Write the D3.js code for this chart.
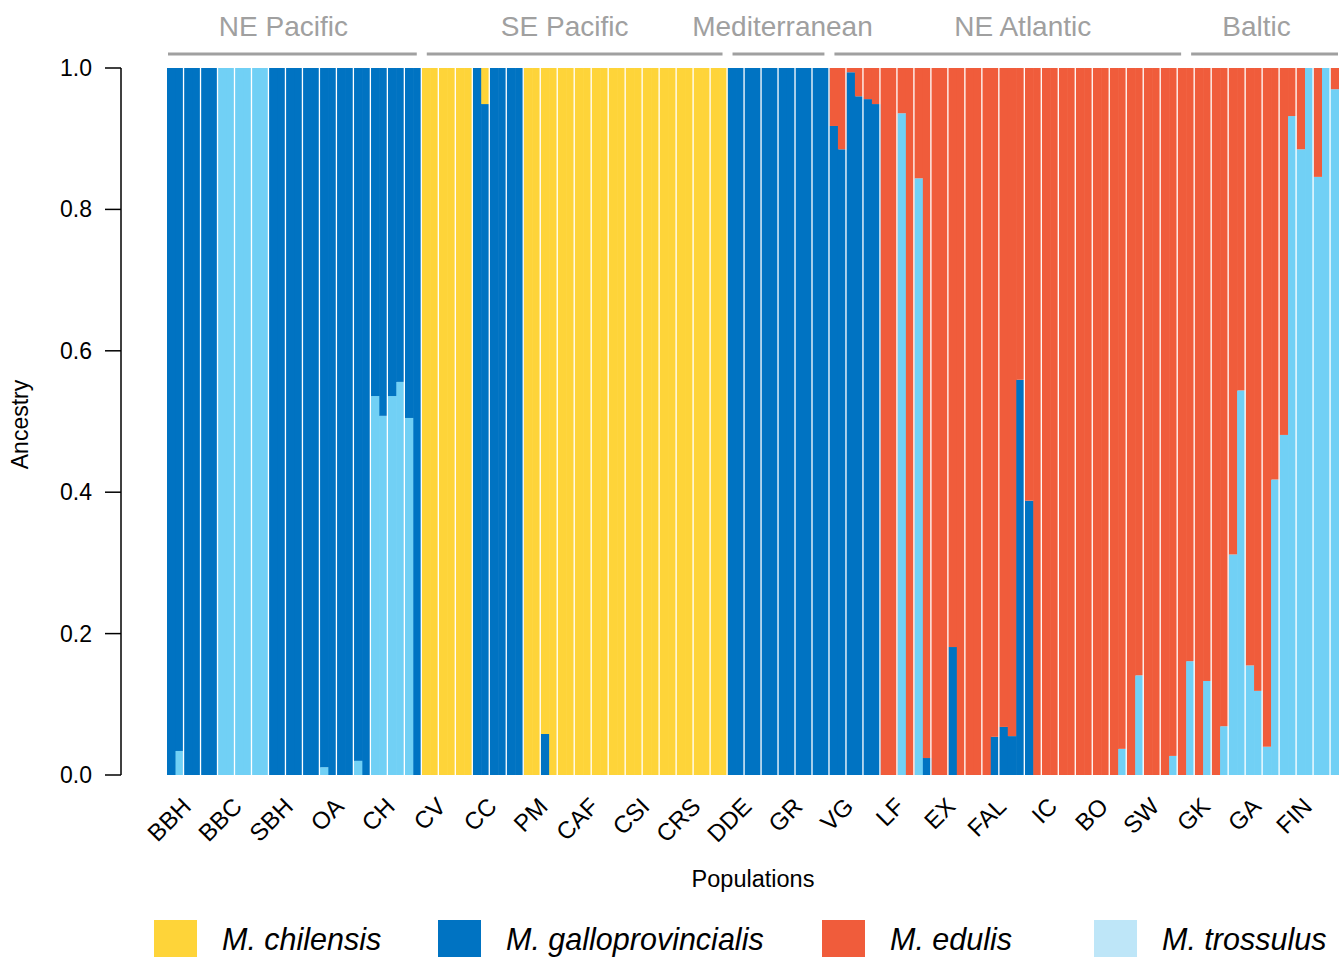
<!DOCTYPE html>
<html><head><meta charset="utf-8">
<script src="https://cdn.jsdelivr.net/npm/d3@7"></script>
<style>
body{margin:0;background:#fff}
svg{display:block}
text{font-family:"Liberation Sans",Arial,Helvetica,sans-serif}
</style>
</head><body>
<svg id="chart" width="1343" height="957"></svg>
<script>
// ---------------- DATA ----------------
const populations = ["BBH","BBC","SBH","OA","CH","CV","CC","PM","CAF","CSI","CRS","DDE","GR","VG","LF","EX","FAL","IC","BO","SW","GK","GA","FIN"];
const regionNames = ["NE Pacific","SE Pacific","Mediterranean","NE Atlantic","Baltic"];
const regionPopCounts = [5,6,2,7,3];
const individualsPerPop = 6;
const speciesKeys = ["trossulus","galloprovincialis","edulis","chilensis"]; // stacking order, bottom to top
const legendKeys = ["chilensis","galloprovincialis","edulis","trossulus"];
const legendLabels = ["M. chilensis","M. galloprovincialis","M. edulis","M. trossulus"];
const yTicks = [0,0.2,0.4,0.6,0.8,1.0];

// ancestry proportions per individual (6 per population, in population order)
const trossulus = [
  0,.034,0,0,0,0,        // BBH
  1,1,1,1,1,1,           // BBC
  0,0,0,0,0,0,           // SBH
  .011,0,0,0,.020,0,     // OA
  .536,.508,.536,.556,.505,0, // CH
  0,0,0,0,0,0,           // CV
  0,0,0,0,0,0,           // CC
  0,0,0,0,0,0,           // PM
  0,0,0,0,0,0,           // CAF
  0,0,0,0,0,0,           // CSI
  0,0,0,0,0,0,           // CRS
  0,0,0,0,0,0,           // DDE
  0,0,0,0,0,0,           // GR
  0,0,0,0,0,0,           // VG
  0,0,.936,0,.844,0,     // LF
  0,0,0,0,0,0,           // EX
  0,0,0,0,0,0,           // FAL
  0,0,0,0,0,0,           // IC
  0,0,0,0,.037,0,        // BO
  .141,0,0,0,.027,0,     // SW
  .161,0,.133,0,.069,.312, // GK
  .544,.155,.119,.040,.418,.481, // GA
  .932,.885,1,.846,1,.970  // FIN
];
const galloprovincialis = [
  1,.966,1,1,1,1,        // BBH
  0,0,0,0,0,0,           // BBC
  1,1,1,1,1,1,           // SBH
  .989,1,1,1,.980,1,     // OA
  .464,.492,.464,.444,.495,1, // CH
  0,0,0,0,0,0,           // CV
  1,.949,1,1,1,1,        // CC
  0,0,.058,0,0,0,        // PM
  0,0,0,0,0,0,           // CAF
  0,0,0,0,0,0,           // CSI
  0,0,0,0,0,0,           // CRS
  1,1,1,1,1,1,           // DDE
  1,1,1,1,1,1,           // GR
  .918,.885,.994,.960,.956,.949, // VG
  0,0,0,0,0,.024,        // LF
  0,0,.181,0,0,0,        // EX
  0,.054,.068,.055,.559,.388, // FAL
  0,0,0,0,0,0,           // IC
  0,0,0,0,0,0,           // BO
  0,0,0,0,0,0,           // SW
  0,0,0,0,0,0,           // GK
  0,0,0,0,0,0,           // GA
  0,0,0,0,0,0            // FIN
];
const edulis = [
  0,0,0,0,0,0,           // BBH
  0,0,0,0,0,0,           // BBC
  0,0,0,0,0,0,           // SBH
  0,0,0,0,0,0,           // OA
  0,0,0,0,0,0,           // CH
  0,0,0,0,0,0,           // CV
  0,0,0,0,0,0,           // CC
  0,0,0,0,0,0,           // PM
  0,0,0,0,0,0,           // CAF
  0,0,0,0,0,0,           // CSI
  0,0,0,0,0,0,           // CRS
  0,0,0,0,0,0,           // DDE
  0,0,0,0,0,0,           // GR
  .082,.115,.006,.040,.044,.051, // VG
  1,1,.064,1,.156,.976,  // LF
  1,1,.819,1,1,1,        // EX
  1,.946,.932,.945,.441,.612, // FAL
  1,1,1,1,1,1,           // IC
  1,1,1,1,.963,1,        // BO
  .859,1,1,1,.973,1,     // SW
  .839,1,.867,1,.931,.688, // GK
  .456,.845,.881,.960,.582,.519, // GA
  .068,.115,0,.154,0,.030  // FIN
];
const chilensis = [
  0,0,0,0,0,0,           // BBH
  0,0,0,0,0,0,           // BBC
  0,0,0,0,0,0,           // SBH
  0,0,0,0,0,0,           // OA
  0,0,0,0,0,0,           // CH
  1,1,1,1,1,1,           // CV
  0,.051,0,0,0,0,        // CC
  1,1,.942,1,1,1,        // PM
  1,1,1,1,1,1,           // CAF
  1,1,1,1,1,1,           // CSI
  1,1,1,1,1,1,           // CRS
  0,0,0,0,0,0,           // DDE
  0,0,0,0,0,0,           // GR
  0,0,0,0,0,0,           // VG
  0,0,0,0,0,0,           // LF
  0,0,0,0,0,0,           // EX
  0,0,0,0,0,0,           // FAL
  0,0,0,0,0,0,           // IC
  0,0,0,0,0,0,           // BO
  0,0,0,0,0,0,           // SW
  0,0,0,0,0,0,           // GK
  0,0,0,0,0,0,           // GA
  0,0,0,0,0,0            // FIN
];

// ---------------- STYLE / LAYOUT ----------------
const barColor = {chilensis:"#FED439", galloprovincialis:"#0073C2", edulis:"#F05C3B", trossulus:"#71D0F5"};
const legendColor = {chilensis:"#FED439", galloprovincialis:"#0073C2", edulis:"#F05C3B", trossulus:"#BEE6F8"};
const plot = {left:167, right:1339, top:68, bottom:775};
const regionLabelNudge = [-11, -10, 4, 15, -6];   // layout only
const legendX = [154, 438, 822, 1094];            // layout only

const svg = d3.select("#chart");
const nInd = populations.length * individualsPerPop;
const individuals = d3.range(nInd).map(i => ({
  i, trossulus: trossulus[i], galloprovincialis: galloprovincialis[i], edulis: edulis[i], chilensis: chilensis[i]
}));

const x = d3.scaleBand().domain(d3.range(nInd)).range([plot.left, plot.right]).padding(0);
const popX = d3.scaleBand().domain(populations).range([plot.left, plot.right]).padding(0);
const y = d3.scaleLinear().domain([0,1]).range([plot.bottom, plot.top]);

// stacked segments, drawn individual by individual
const stacked = d3.stack().keys(speciesKeys)(individuals);
const segs = individuals.map((d, i) => stacked.map(s => ({key: s.key, i, y0: s[i][0], y1: s[i][1]})).filter(s => s.y1 - s.y0 > 0));

svg.append("g").selectAll("g.ind").data(segs).join("g").attr("class","ind")
  .selectAll("rect").data(d => d).join("rect")
  .attr("x", d => x(d.i))
  .attr("width", d => x.bandwidth() + (d.i < nInd - 1 ? 0.6 : 0))
  .attr("y", d => y(d.y1))
  .attr("height", d => y(d.y0) - y(d.y1))
  .attr("fill", d => barColor[d.key]);

// white separators between pairs of bars
const seps = d3.range(1, nInd).filter(i => (i < 100 && i % 2 === 0) || (i > 100 && i % 2 === 1));
svg.append("g").selectAll("rect").data(seps).join("rect")
  .attr("x", i => x(i) - 1.1).attr("width", 1.3)
  .attr("y", plot.top).attr("height", plot.bottom - plot.top)
  .attr("fill", "#fff");

// y axis
const yAxis = svg.append("g").attr("transform", `translate(121,0)`);
yAxis.append("line").attr("x1",0).attr("x2",0).attr("y1",y(0)).attr("y2",y(1)).attr("stroke","#000").attr("stroke-width",1.5);
yAxis.selectAll("line.tick").data(yTicks).join("line").attr("class","tick")
  .attr("x1",-16).attr("x2",0).attr("y1",d=>y(d)).attr("y2",d=>y(d)).attr("stroke","#000").attr("stroke-width",1.5);
yAxis.selectAll("text").data(yTicks).join("text")
  .attr("x",-29).attr("y",d=>y(d)).attr("dy","0.35em").attr("text-anchor","end")
  .attr("font-size",23).attr("fill","#000").text(d=>d.toFixed(1));

svg.append("text").attr("transform",`translate(28,${(plot.top+plot.bottom)/2 + 3}) rotate(-90)`)
  .attr("text-anchor","middle").attr("font-size",23).text("Ancestry");

// population labels
svg.append("g").selectAll("text").data(populations).join("text")
  .attr("transform", p => `translate(${popX(p) + popX.bandwidth()/2},808) rotate(-45)`)
  .attr("text-anchor","end").attr("font-size",24).attr("fill","#000").text(p=>p);

svg.append("text").attr("x",(plot.left+plot.right)/2).attr("y",887).attr("text-anchor","middle")
  .attr("font-size",23.5).text("Populations");

// region brackets
let start = 0;
const regions = regionNames.map((name, k) => {
  const s = start; start += regionPopCounts[k];
  return {name, k, x0: popX(populations[s]), x1: popX(populations[start-1]) + popX.bandwidth()};
});
const gReg = svg.append("g");
gReg.selectAll("line").data(regions).join("line")
  .attr("x1", d => d.x0 <= plot.left ? plot.left + 1 : d.x0 + 5)
  .attr("x2", d => d.x1 >= plot.right ? plot.right - 1 : d.x1 - 5)
  .attr("y1",54).attr("y2",54).attr("stroke","#A0A0A0").attr("stroke-width",3);
gReg.selectAll("text").data(regions).join("text")
  .attr("x", d => (d.x0 + d.x1)/2 + regionLabelNudge[d.k]).attr("y",36).attr("text-anchor","middle")
  .attr("font-size",28).attr("fill","#A0A0A0").text(d=>d.name);

// legend
const gLeg = svg.append("g");
legendKeys.forEach((k, j) => {
  gLeg.append("rect").attr("x",legendX[j]).attr("y",920).attr("width",43).attr("height",37).attr("fill",legendColor[k]);
  gLeg.append("text").attr("x",legendX[j]+68).attr("y",950).attr("font-size",30.5).attr("font-style","italic")
    .attr("fill","#000").text(legendLabels[j]);
});
</script>
</body></html>
